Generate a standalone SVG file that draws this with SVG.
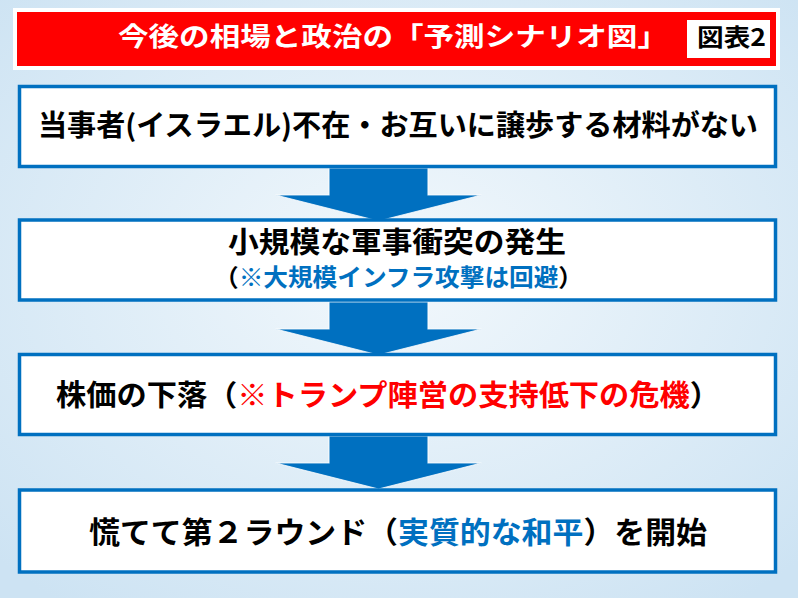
<svg xmlns="http://www.w3.org/2000/svg" width="798" height="598" viewBox="0 0 798 598">
<defs>
<radialGradient id="bg" cx="50%" cy="45%" r="70%">
<stop offset="0" stop-color="#F2F8FC"/>
<stop offset="1" stop-color="#CDE3F3"/>
</radialGradient>
<path id="arrow" d="M-49.5,0 H49.5 V27 H103 L0,53 L-103,27 H-49.5 Z"/>
</defs>
<style>
text{font-family:"Noto Sans CJK JP","Noto Sans CJK SC",sans-serif;font-weight:bold;}
.box{fill:#FFFFFF;stroke:#0070C0;stroke-width:3.5;}
.arr{fill:#0070C0;stroke:#FFFFFF;stroke-width:1.2;stroke-opacity:0.8;}
.blk{fill:#000000;}
.blue{fill:#0070C0;}
.red{fill:#FF0000;}
</style>
<rect x="0" y="0" width="798" height="598" fill="url(#bg)"/>
<g id="title">
<rect x="13" y="8" width="767" height="62" fill="#FFFFFF"/>
<rect x="17" y="12" width="759" height="54" fill="#FF0000"/>
<text x="118" y="46" font-size="26" fill="#FFFFFF" textLength="550" lengthAdjust="spacingAndGlyphs">今後の相場と政治の「予測シナリオ図」</text>
<rect x="687" y="20" width="83" height="38" fill="#FFFFFF"/>
<text x="697" y="46" font-size="24" class="blk" textLength="69" lengthAdjust="spacingAndGlyphs">図表2</text>
</g>
<g id="connectors">
<use href="#arrow" class="arr" transform="translate(378.5,168)"/>
<use href="#arrow" class="arr" transform="translate(378.5,302)"/>
<use href="#arrow" class="arr" transform="translate(378.5,436)"/>
</g>
<g id="node1">
<rect class="box" x="19.5" y="86.5" width="756" height="80"/>
<text x="38" y="136" font-size="29" class="blk" textLength="720" lengthAdjust="spacingAndGlyphs">当事者(イスラエル)不在・お互いに譲歩する材料がない</text>
</g>
<g id="node2">
<rect class="box" x="19.5" y="220" width="756" height="80"/>
<text x="228" y="253" font-size="29" class="blk" textLength="338" lengthAdjust="spacingAndGlyphs">小規模な軍事衝突の発生</text>
<text x="214" y="286" font-size="24" class="blk" textLength="369" lengthAdjust="spacingAndGlyphs">（<tspan class="blue">※大規模インフラ攻撃は回避</tspan>）</text>
</g>
<g id="node3">
<rect class="box" x="19.5" y="354.5" width="756" height="80"/>
<text x="56" y="406" font-size="29" class="blk" textLength="664" lengthAdjust="spacingAndGlyphs">株価の下落（<tspan class="red">※トランプ陣営の支持低下の危機</tspan>）</text>
</g>
<g id="node4">
<rect class="box" x="19.5" y="490" width="756" height="82"/>
<text x="89" y="543" font-size="30" class="blk" textLength="618" lengthAdjust="spacingAndGlyphs">慌てて第２ラウンド（<tspan class="blue">実質的な和平</tspan>）を開始</text>
</g>
</svg>
